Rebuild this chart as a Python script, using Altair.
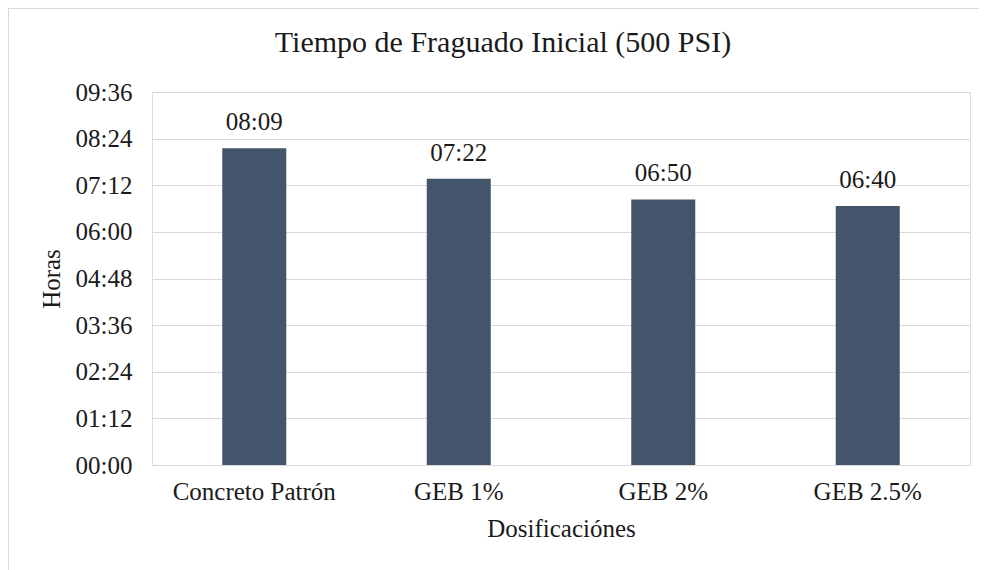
import altair as alt
import pandas as pd

categories = ["Concreto Patrón", "GEB 1%", "GEB 2%", "GEB 2.5%"]
labels = ["08:09", "07:22", "06:50", "06:40"]
minutes = [489, 442, 410, 400]

df = pd.DataFrame({"cat": categories, "lab": labels, "min": minutes})

FONT = "Liberation Serif"
W, H = 818, 373

label_expr = ("(floor(datum.value/60) < 10 ? '0' : '') + floor(datum.value/60) + ':' + "
              "(datum.value % 60 < 10 ? '0' : '') + (datum.value % 60)")

x = alt.X("cat:N", sort=categories, title="Dosificaciónes",
          scale=alt.Scale(paddingInner=0, paddingOuter=0),
          axis=alt.Axis(labelAngle=0, ticks=False, domain=False, labelPadding=14,
                        labelFont=FONT, labelFontSize=25, labelColor="#1a1a1a",
                        titleFont=FONT, titleFontSize=25, titleFontWeight="normal",
                        titleColor="#1a1a1a", titlePadding=12))
y = alt.Y("min:Q", title="Horas",
          scale=alt.Scale(domain=[0, 576], nice=False),
          axis=alt.Axis(values=list(range(0, 577, 72)), labelExpr=label_expr,
                        ticks=False, domain=False, labelPadding=20,
                        gridColor="#d9d9d9", gridWidth=1.2,
                        labelFont=FONT, labelFontSize=25, labelColor="#1a1a1a",
                        titleFont=FONT, titleFontSize=25, titleFontWeight="normal",
                        titleColor="#1a1a1a", titlePadding=11))

base = alt.Chart(df)
bars = base.mark_bar(size=64, color="#44546a").encode(x=x, y=y)
texts = base.mark_text(font=FONT, fontSize=25, color="#1a1a1a", baseline="alphabetic", dy=-18).encode(
    x=alt.X("cat:N", sort=categories), y=alt.Y("min:Q"), text="lab:N")
frame = base.mark_rect(fill=None, stroke="#d9d9d9", strokeWidth=1.5, clip=False).encode(
    x=alt.value(-144), x2=alt.value(W + 40), y=alt.value(-84), y2=alt.value(H + 140))

chart = alt.layer(frame, bars, texts).properties(
    width=W, height=H,
    title=alt.Title("Tiempo de Fraguado Inicial (500 PSI)", font=FONT, fontSize=30,
                    fontWeight="normal", color="#1a1a1a", offset=0,
                    baseline="alphabetic", dy=75, dx=-58),
    autosize=alt.AutoSizeParams(type="none"),
    padding={"left": 144, "top": 84, "right": 9, "bottom": 105},
).configure_view(stroke=None).configure(background="white")

chart.save("out.html", embed_options={"renderer": "svg", "actions": False})
